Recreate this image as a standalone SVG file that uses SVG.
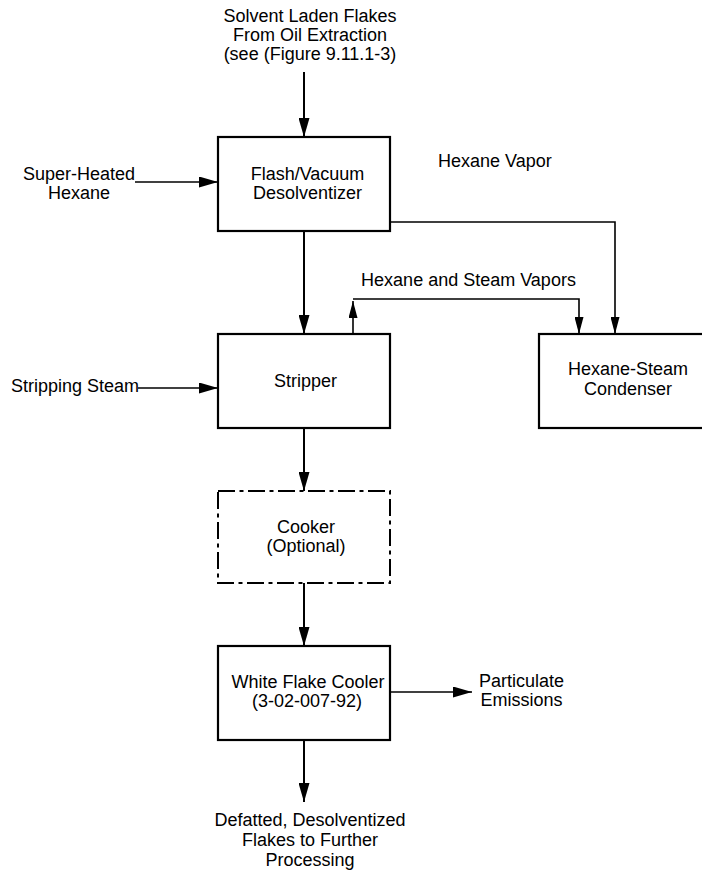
<svg xmlns="http://www.w3.org/2000/svg" width="702" height="871" viewBox="0 0 702 871">
<style>
text{font-family:"Liberation Sans",Arial,sans-serif;font-size:18px;fill:#000;}
.c{text-anchor:middle;}
.box{fill:#fff;stroke:#000;stroke-width:2.2;}
.dash{fill:#fff;stroke:#000;stroke-width:2;stroke-dasharray:17,4.5,4,4.5;}
.ln{fill:none;stroke:#000;stroke-width:2;}
.thin{fill:none;stroke:#000;stroke-width:1.6;}
</style>
<defs>
<marker id="ah" viewBox="0 0 19 11" refX="19" refY="5.5" markerWidth="19" markerHeight="11" markerUnits="userSpaceOnUse" orient="auto">
<path d="M0,0 L19,5.5 L0,11 z" fill="#000"/>
</marker>
<marker id="ahs" viewBox="0 0 17 9" refX="17" refY="4.5" markerWidth="17" markerHeight="9" markerUnits="userSpaceOnUse" orient="auto">
<path d="M0,0 L17,4.5 L0,9 z" fill="#000"/>
</marker>
</defs>
<rect width="702" height="871" fill="#fff"/>

<g id="connectors">
<line class="ln" x1="304" y1="72" x2="304" y2="137" marker-end="url(#ah)"/>
<line class="thin" x1="135" y1="182" x2="218" y2="182" marker-end="url(#ah)"/>
<polyline class="thin" points="389,222 615,222 615,334" marker-end="url(#ahs)"/>
<line class="ln" x1="304" y1="231" x2="304" y2="334" marker-end="url(#ah)"/>
<line class="thin" x1="353" y1="334" x2="353" y2="301" marker-end="url(#ahs)"/>
<polyline class="thin" points="353,299 579,299 579,334" marker-end="url(#ahs)"/>
<line class="thin" x1="138" y1="388" x2="218" y2="388" marker-end="url(#ah)"/>
<line class="ln" x1="304" y1="428" x2="304" y2="491" marker-end="url(#ah)"/>
<line class="ln" x1="304" y1="583" x2="304" y2="646" marker-end="url(#ah)"/>
<line class="thin" x1="388" y1="692" x2="472" y2="692" marker-end="url(#ah)"/>
<line class="ln" x1="304" y1="740" x2="304" y2="802" marker-end="url(#ah)"/>
</g>

<g id="input-flakes">
<text class="c" x="310" y="22">Solvent Laden Flakes</text>
<text class="c" x="310" y="41">From Oil Extraction</text>
<text class="c" x="310" y="60">(see (Figure 9.11.1-3)</text>
</g>

<g id="input-hexane">
<text class="c" x="79" y="180">Super-Heated</text>
<text class="c" x="79" y="199">Hexane</text>
</g>

<g id="flash-desolventizer">
<rect class="box" x="218" y="137" width="172" height="94"/>
<text class="c" x="307.5" y="180">Flash/Vacuum</text>
<text class="c" x="307.5" y="199">Desolventizer</text>
</g>

<g id="label-hexane-vapor">
<text x="438" y="167">Hexane Vapor</text>
</g>

<g id="label-hexane-steam-vapors">
<text class="c" x="468.5" y="286">Hexane and Steam Vapors</text>
</g>

<g id="input-steam">
<text x="11" y="392">Stripping Steam</text>
</g>

<g id="stripper">
<rect class="box" x="218" y="334" width="172" height="94"/>
<text class="c" x="305.5" y="387">Stripper</text>
</g>

<g id="condenser">
<rect class="box" x="539" y="334" width="180" height="94"/>
<text class="c" x="628" y="375">Hexane-Steam</text>
<text class="c" x="628" y="395">Condenser</text>
</g>

<g id="cooker">
<rect class="dash" x="218" y="491" width="172" height="92"/>
<text class="c" x="306" y="533">Cooker</text>
<text class="c" x="306" y="552">(Optional)</text>
</g>

<g id="white-flake-cooler">
<rect class="box" x="218" y="646" width="172" height="94"/>
<text class="c" x="308" y="688">White Flake Cooler</text>
<text class="c" x="307" y="707">(3-02-007-92)</text>
</g>

<g id="particulate-emissions">
<text class="c" x="521.5" y="687">Particulate</text>
<text class="c" x="521.5" y="706">Emissions</text>
</g>

<g id="output-flakes">
<text class="c" x="310" y="826">Defatted, Desolventized</text>
<text class="c" x="310" y="846">Flakes to Further</text>
<text class="c" x="310" y="866">Processing</text>
</g>
</svg>
